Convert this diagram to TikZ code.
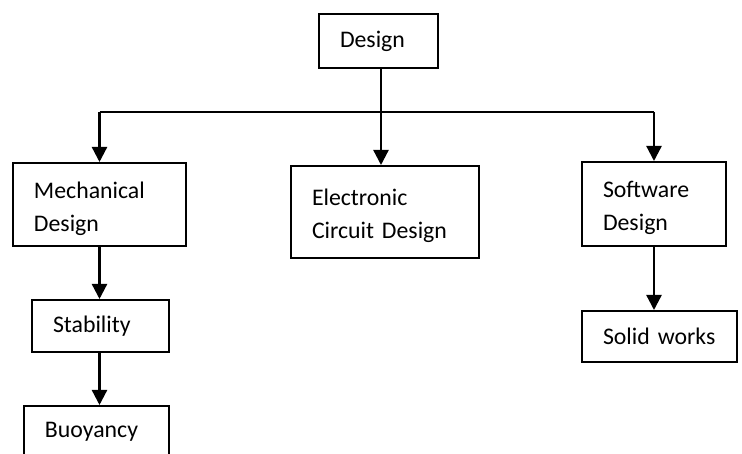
\documentclass[tikz,border=0pt]{standalone}
\usepackage{fontspec}
\setmainfont{Carlito}
\usetikzlibrary{arrows.meta}
\begin{document}
\begin{tikzpicture}[
    x=1pt, y=-1pt,
    >={Triangle[width=15pt,length=15pt]},
    line width=2pt,
    box/.style={draw, rectangle, inner xsep=21pt, inner ysep=0pt, align=left,
      font=\fontsize{23.8}{33}\selectfont},
    twoline/.style={text height=17.8pt, text depth=29.8pt}
]
  \clip (0,0) rectangle (742,454);
  % nodes
  \node[box, text width=77pt,  minimum height=54pt] (design) at (378.5,41)  {Design};
  \node[box, twoline, text width=131pt, minimum height=83pt] (mech) at (99.5,204.5) {Mechanical\\Design};
  \node[box, twoline, text width=146pt, minimum height=92pt] (elec) at (385,212)    {Electronic\\Circuit Design};
  \node[box, twoline, text width=102pt, minimum height=84pt] (soft) at (654,204)    {Software\\Design};
  \node[box, text width=95pt,  minimum height=52pt] (stab)   at (100.5,326)  {Stability};
  \node[box, text width=103pt, minimum height=52pt] (buoy)   at (96.5,432)   {Buoyancy};
  \node[box, text width=113pt, minimum height=51pt] (solid)  at (659.5,336.5) {Solid works};
  \coordinate (hub) at (381,112);

  % edges
  \draw[line width=2.3pt] (design.south -| hub) -- (hub);
  \draw[line width=1.7pt] (mech.north |- hub) -- (soft.north |- hub);
  \draw[->, line width=2.3pt] (mech.north |- hub) -- (mech.north);
  \draw[->, line width=2.3pt] (hub) -- (elec.north -| hub);
  \draw[->, line width=2.3pt] (soft.north |- hub) -- (soft.north);
  \draw[->, line width=2.3pt] (mech.south) -- (stab.north -| mech.south);
  \draw[->, line width=2.3pt] (stab.south -| mech.south) -- (buoy.north -| mech.south);
  \draw[->, line width=2.3pt] (soft.south) -- (solid.north -| soft.south);
\end{tikzpicture}
\end{document}
